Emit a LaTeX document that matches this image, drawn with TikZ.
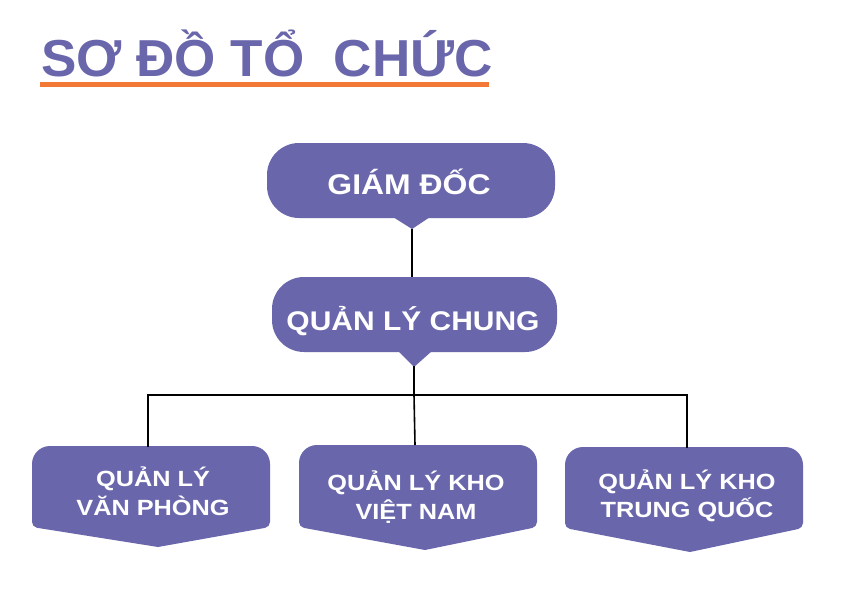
\documentclass[tikz,border=0pt]{standalone}
\usepackage{fontspec}
\setmainfont{Liberation Sans}
\newfontfamily\titlefont[FakeStretch=1.02]{Liberation Sans}
\newfontfamily\wideA[FakeStretch=1.12]{Liberation Sans}
\newfontfamily\wideB[FakeStretch=1.11]{Liberation Sans}
\newfontfamily\wideC[FakeStretch=1.15]{Liberation Sans}
\definecolor{purp}{HTML}{6966AC}
\definecolor{orng}{HTML}{F27935}
\tikzset{
  boxfill/.style={fill=purp},
  conn/.style={draw=black, line width=1.6pt},
  toptext/.style={text=white, inner sep=0pt, anchor=base},
  lowtext/.style={text=white, inner sep=0pt, align=center, font=\wideC\bfseries\fontsize{22}{28.5}\selectfont},
}
\begin{document}
\begin{tikzpicture}[x=1pt,y=-1pt]
\useasboundingbox (0,0) rectangle (850,591);
\fill[white] (0,0) rectangle (850,591);
% title
\node[anchor=base west, inner sep=0pt, text=purp, font=\titlefont\bfseries\fontsize{52}{60}\selectfont] (title) at (41,77) {SƠ ĐỒ TỔ\ \ CHỨC};
\fill[orng] (40,82) rectangle (489,87);
% top box
\fill[boxfill, rounded corners=32] (267,143) rectangle (555,218);
\fill[boxfill] (393,217) -- (430,217) -- (412,229) -- cycle;
\coordinate (gdtip) at (412,229);
\node[toptext, font=\wideA\bfseries\fontsize{28.5}{32}\selectfont] (gd) at (409,194) {GIÁM ĐỐC};
% second box
\fill[boxfill, rounded corners=32] (272,277) rectangle (557,352);
\fill[boxfill] (398,351) -- (432,351) -- (414,367) -- cycle;
\coordinate (qltop) at (412,277);
\coordinate (qltip) at (414,366);
\node[toptext, font=\wideB\bfseries\fontsize{27}{30}\selectfont] (ql) at (413,330) {QUẢN LÝ CHUNG};
% bottom boxes
\fill[boxfill] (158,547) [rounded corners=5] -- (32,527) [rounded corners=18] -- (32,446) -- (270,446) [rounded corners=5] -- (270,527) [sharp corners] -- cycle;
\fill[boxfill] (425,550) [rounded corners=5] -- (299,527) [rounded corners=18] -- (299,445) -- (537,445) [rounded corners=5] -- (537,527) [sharp corners] -- cycle;
\fill[boxfill] (690,552) [rounded corners=5] -- (565,528) [rounded corners=18] -- (565,447) -- (803,447) [rounded corners=5] -- (803,528) [sharp corners] -- cycle;
\coordinate (atop) at (148,446);
\coordinate (btop) at (415,445);
\coordinate (ctop) at (687,447);
\node[lowtext] (a) at (153,491) {QUẢN LÝ\\VĂN PHÒNG};
\node[lowtext] (b) at (416,497) {QUẢN LÝ KHO\\VIỆT NAM};
\node[lowtext] (c) at (687,496) {QUẢN LÝ KHO\\TRUNG QUỐC};
% connectors
\coordinate (bus) at (414,395);
\draw[conn] (gdtip) -- (qltop);
\draw[conn] (qltip) -- (bus);
\draw[conn, line cap=rect] (atop) |- (bus) -| (ctop);
\draw[conn] (bus) -- (btop);
\end{tikzpicture}
\end{document}
